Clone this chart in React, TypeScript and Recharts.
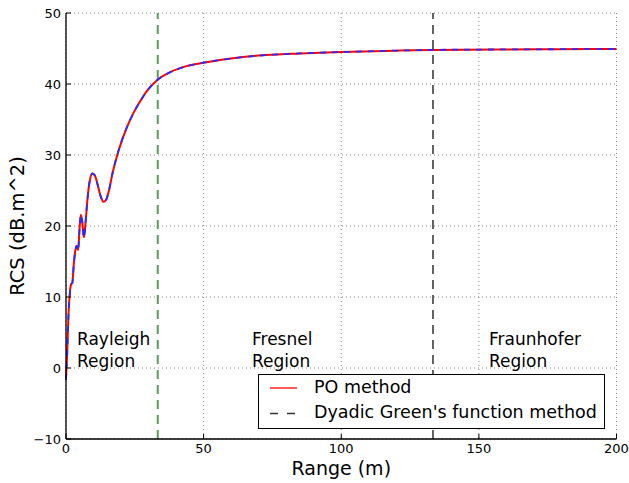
import {
  CartesianGrid,
  Label,
  Legend,
  Line,
  LineChart,
  ReferenceLine,
  XAxis,
  YAxis,
} from "recharts";

// dados (distância em metros, RCS em dB.m^2)
const rangeM = [
  0, 0.4, 0.9, 1.4, 1.9, 2.3, 2.8, 3.4, 3.9, 4.4, 4.9, 5.4, 5.9, 6.5, 7.1, 7.8,
  8.6, 9.6, 10.5, 11.5, 12.5, 13.6, 14.6, 15.6, 17, 19, 22, 24.5, 27, 30, 33.3,
  37, 42, 50, 60, 70, 85, 100, 120, 133.3, 160, 180, 200,
];
const rcsPO = [
  -1.4, 1.8, 7.5, 10.6, 11.8, 12, 14.5, 16.6, 17.2, 16.6, 19.5, 21.6, 20.6, 18.4,
  20.5, 23.8, 26.3, 27.4, 27.1, 25.8, 24.3, 23.4, 23.7, 25, 27.6, 30.5, 33.8,
  35.9, 37.6, 39.3, 40.6, 41.5, 42.3, 43, 43.6, 44, 44.3, 44.5, 44.7, 44.8,
  44.87, 44.9, 44.93,
];
const rcsDyadic = [
  -1.7, 1.6, 7.3, 10.5, 11.8, 12, 14.4, 16.6, 17.2, 16.5, 19.4, 21.6, 20.6, 18.3,
  20.5, 23.8, 26.3, 27.4, 27.1, 25.8, 24.3, 23.4, 23.7, 25, 27.6, 30.5, 33.8,
  35.9, 37.6, 39.3, 40.6, 41.5, 42.3, 43, 43.6, 44, 44.3, 44.5, 44.7, 44.8,
  44.87, 44.9, 44.93,
];
const xTicks = [0, 50, 100, 150, 200];
const yTicks = [-10, 0, 10, 20, 30, 40, 50];
const regionLimits = [33.33, 133.33];
const regionLabels = [
  ["Rayleigh", "Region"],
  ["Fresnel", "Region"],
  ["Fraunhofer", "Region"],
];

const data = rangeM.map((r, i) => ({
  range: r,
  po: rcsPO[i],
  dyadic: rcsDyadic[i],
}));

const FONT = "'DejaVu Sans', sans-serif";

// ticks para dentro, estilo matplotlib
const BottomTick = (props: any) => {
  const { x, y, payload } = props;
  return (
    <g>
      <line x1={x} y1={y} x2={x} y2={y - 5} stroke="#000" strokeWidth={1} />
      <text x={x} y={y + 14} textAnchor="middle" fontSize={13} fontFamily={FONT} fill="#000">
        {payload.value}
      </text>
    </g>
  );
};
const TopTick = (props: any) => (
  <line x1={props.x} y1={props.y} x2={props.x} y2={props.y + 5} stroke="#000" strokeWidth={1} />
);
const LeftTick = (props: any) => {
  const { x, y, payload } = props;
  return (
    <g>
      <line x1={x} y1={y} x2={x + 5} y2={y} stroke="#000" strokeWidth={1} />
      <text x={x - 5} y={y + 5} textAnchor="end" fontSize={13} fontFamily={FONT} fill="#000">
        {payload.value < 0 ? "\u2212" + Math.abs(payload.value) : payload.value}
      </text>
    </g>
  );
};
const RightTick = (props: any) => (
  <line x1={props.x} y1={props.y} x2={props.x - 5} y2={props.y} stroke="#000" strokeWidth={1} />
);

const LegendBox = () => (
  <div
    style={{
      border: "1.3px solid #000",
      background: "#fff",
      fontFamily: FONT,
      fontSize: 17.5,
      color: "#000",
      width: 347,
      height: 55,
      boxSizing: "border-box",
      position: "relative",
    }}
  >
    <svg width={40} height={55} style={{ position: "absolute", left: 0, top: 0 }}>
      <line x1={11} y1={13} x2={38} y2={13} stroke="#ff0000" strokeWidth={1.3} />
      <line x1={11} y1={38.5} x2={38} y2={38.5} stroke="#333" strokeWidth={1.5} strokeDasharray="8 9" />
    </svg>
    <div style={{ position: "absolute", left: 55, top: 2, whiteSpace: "nowrap" }}>PO method</div>
    <div style={{ position: "absolute", left: 55, top: 27, whiteSpace: "nowrap" }}>
      Dyadic Green's function method
    </div>
  </div>
);

export default function App() {
  const regionX = [77, 252, 489];
  return (
    <div style={{ position: "absolute", left: 0, top: 0, width: 629, height: 483, background: "#fff" }}>
      <LineChart
        width={629}
        height={483}
        data={data}
        margin={{ top: 13, right: 12.5, bottom: 0, left: 8 }}
      >
        <CartesianGrid stroke="#666" strokeDasharray="1 3" strokeWidth={0.8} />
        <XAxis
          dataKey="range"
          type="number"
          domain={[0, 200]}
          ticks={xTicks}
          height={44}
          tickSize={0}
          tickMargin={0}
          tickLine={false}
          tick={<BottomTick />}
          axisLine={{ stroke: "#000", strokeWidth: 1.3 }}
        >
          <Label
            content={(p: any) => (
              <text
                x={p.viewBox.x + p.viewBox.width / 2}
                y={475}
                textAnchor="middle"
                fontSize={19}
                fontFamily={FONT}
                fill="#000"
              >
                Range (m)
              </text>
            )}
          />
        </XAxis>
        <XAxis
          xAxisId="top"
          orientation="top"
          type="number"
          domain={[0, 200]}
          ticks={xTicks}
          height={0}
          tickSize={0}
          tickMargin={0}
          tickLine={false}
          tick={<TopTick />}
          axisLine={{ stroke: "#000", strokeWidth: 1.3 }}
        />
        <YAxis
          type="number"
          domain={[-10, 50]}
          ticks={yTicks}
          width={58}
          tickSize={0}
          tickMargin={0}
          tickLine={false}
          tick={<LeftTick />}
          axisLine={{ stroke: "#000", strokeWidth: 1.3 }}
        >
          <Label
            content={(p: any) => (
              <text
                x={24}
                y={p.viewBox.y + p.viewBox.height / 2}
                transform={`rotate(-90 24 ${p.viewBox.y + p.viewBox.height / 2})`}
                textAnchor="middle"
                fontSize={19.5}
                fontFamily={FONT}
                fill="#000"
              >
                RCS (dB.m^2)
              </text>
            )}
          />
        </YAxis>
        <YAxis
          yAxisId="right"
          orientation="right"
          type="number"
          domain={[-10, 50]}
          ticks={yTicks}
          width={0}
          tickSize={0}
          tickMargin={0}
          tickLine={false}
          tick={<RightTick />}
          axisLine={{ stroke: "#000", strokeWidth: 1.3 }}
        />
        <ReferenceLine x={regionLimits[0]} stroke="#55a055" strokeWidth={2} strokeDasharray="9 6" />
        <ReferenceLine x={regionLimits[1]} stroke="#222" strokeWidth={1.4} strokeDasharray="9 6" />
        <Line
          type="monotone"
          dataKey="po"
          name="PO method"
          stroke="#ff0000"
          strokeWidth={2}
          dot={false}
          isAnimationActive={false}
        />
        <Line
          type="monotone"
          dataKey="dyadic"
          name="Dyadic Green's function method"
          stroke="#2a2aff"
          strokeWidth={1.8}
          strokeDasharray="6 6"
          dot={false}
          isAnimationActive={false}
        />
        <Legend
          layout="horizontal"
          verticalAlign="middle"
          content={() => <LegendBox />}
          wrapperStyle={{ left: 258, top: 374, width: 349, height: 57 }}
        />
      </LineChart>
      {regionLabels.map((lines, i) => (
        <div
          key={i}
          style={{
            position: "absolute",
            left: regionX[i],
            top: 328,
            fontFamily: FONT,
            fontSize: 17,
            lineHeight: "22px",
            color: "#000",
            whiteSpace: "nowrap",
          }}
        >
          {lines[0]}
          <br />
          {lines[1]}
        </div>
      ))}
    </div>
  );
}
